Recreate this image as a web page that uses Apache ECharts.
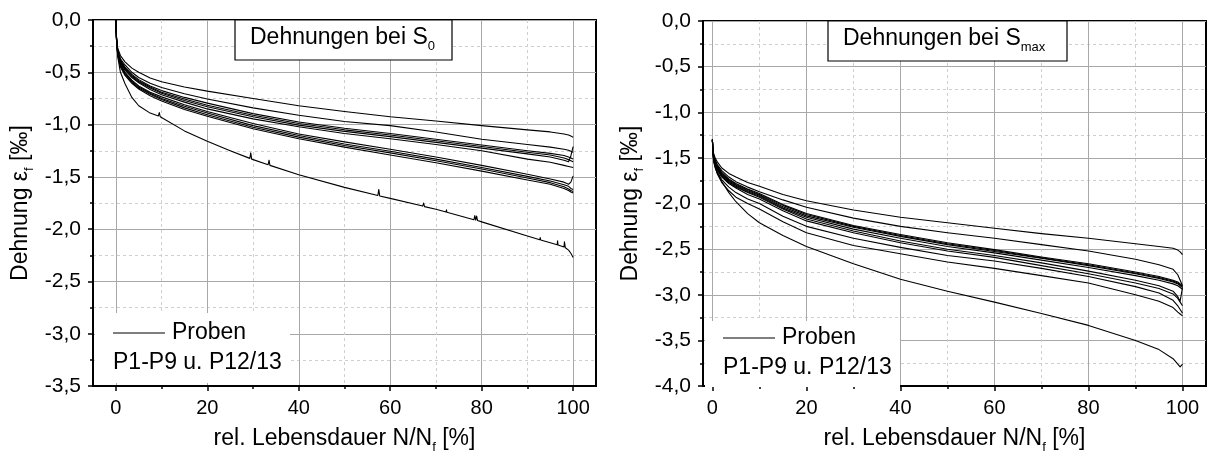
<!DOCTYPE html>
<html><head><meta charset="utf-8">
<script src="https://cdn.jsdelivr.net/npm/echarts@6/dist/echarts.min.js"></script>
<style>html,body{margin:0;padding:0;background:#fff}#c{width:1210px;height:459px}</style>
</head><body><div id="c"></div>
<script>
// ---------- tick labels ----------
const xMajorTicks = [0, 20, 40, 60, 80, 100];
const xMinorTicks = [10, 30, 50, 70, 90];

// ---------- left plot: Dehnungen bei S0 ----------
const xLeft = [0, 0.15, 0.4, 1, 2, 3.5, 5, 7.5, 10, 15, 20, 30, 40, 50, 60, 70, 80, 90, 95, 98, 99, 99.5, 100];
const s0_A = [0, -0.17, -0.27, -0.34, -0.40, -0.46, -0.50, -0.555, -0.59, -0.64, -0.68, -0.75, -0.82, -0.875, -0.925, -0.965, -1.01, -1.05, -1.07, -1.09, -1.10, -1.11, -1.12];
const s0_B = [0, -0.18, -0.29, -0.37, -0.43, -0.50, -0.55, -0.605, -0.645, -0.705, -0.755, -0.84, -0.91, -0.97, -1.01, -1.07, -1.14, -1.19, -1.215, -1.235, -1.245, -1.255, -1.265];
const s0_C = [0, -0.18, -0.29, -0.38, -0.45, -0.52, -0.57, -0.63, -0.675, -0.74, -0.795, -0.895, -0.975, -1.035, -1.085, -1.14, -1.195, -1.25, -1.275, -1.295, -1.31, -1.32, -1.33];
const s0_D = [0, -0.18, -0.30, -0.39, -0.46, -0.53, -0.58, -0.64, -0.69, -0.755, -0.815, -0.91, -0.99, -1.05, -1.10, -1.155, -1.21, -1.265, -1.29, -1.32, -1.335, -1.345, -1.355];
const s0_E = [0, -0.18, -0.30, -0.40, -0.47, -0.54, -0.59, -0.65, -0.70, -0.77, -0.83, -0.925, -1.005, -1.065, -1.115, -1.17, -1.225, -1.28, -1.31, -1.34, -1.355, -1.30, -1.21];
const s0_F = [0, -0.19, -0.31, -0.41, -0.48, -0.55, -0.60, -0.665, -0.715, -0.785, -0.85, -0.945, -1.02, -1.085, -1.135, -1.19, -1.25, -1.33, -1.36, -1.39, -1.40, -1.405, -1.41];
const s0_G = [0, -0.19, -0.32, -0.42, -0.50, -0.575, -0.63, -0.69, -0.735, -0.81, -0.875, -0.99, -1.09, -1.165, -1.235, -1.31, -1.39, -1.475, -1.52, -1.55, -1.57, -1.55, -1.49];
const s0_H = [0, -0.19, -0.32, -0.43, -0.51, -0.585, -0.64, -0.70, -0.75, -0.825, -0.89, -1.01, -1.105, -1.185, -1.255, -1.33, -1.41, -1.495, -1.54, -1.575, -1.59, -1.61, -1.62];
const s0_I = [0, -0.20, -0.33, -0.44, -0.52, -0.595, -0.65, -0.71, -0.76, -0.84, -0.905, -1.025, -1.12, -1.20, -1.27, -1.345, -1.425, -1.51, -1.555, -1.595, -1.615, -1.63, -1.64];
const s0_K = [0, -0.20, -0.33, -0.45, -0.53, -0.605, -0.66, -0.725, -0.775, -0.855, -0.92, -1.04, -1.135, -1.215, -1.29, -1.365, -1.445, -1.53, -1.57, -1.61, -1.63, -1.645, -1.655];
// lowest curve with its small spikes (x, y pairs)
const s0_J = [[0,0],[0.15,-0.20],[0.4,-0.35],[1,-0.50],[2,-0.61],[3.5,-0.74],[5,-0.82],[7.5,-0.89],
  [9.3,-0.917],[9.5,-0.885],[9.7,-0.925],[10,-0.935],[15,-1.06],[20,-1.16],[25,-1.25],
  [29.3,-1.323],[29.5,-1.27],[29.7,-1.33],[30,-1.335],[33.3,-1.383],[33.5,-1.34],[33.7,-1.39],[40,-1.48],[50,-1.60],
  [57.3,-1.677],[57.5,-1.62],[57.7,-1.682],[60,-1.705],[67.1,-1.779],[67.3,-1.75],[67.5,-1.784],[70,-1.81],
  [72.2,-1.836],[72.3,-1.815],[72.4,-1.838],[78.3,-1.91],[78.5,-1.87],[78.7,-1.914],[78.9,-1.875],[79.1,-1.917],[80,-1.93],
  [90,-2.065],[92.7,-2.10],[92.8,-2.08],[92.9,-2.103],[95,-2.13],[96.5,-2.149],[96.6,-2.11],[96.7,-2.152],[98,-2.17],
  [98.1,-2.12],[98.3,-2.178],[99,-2.20],[99.5,-2.23],[100,-2.27]];

// ---------- right plot: Dehnungen bei Smax ----------
const xRight = [0, 0.1, 0.3, 0.6, 1, 2, 3.5, 5, 7.5, 10, 15, 20, 30, 40, 50, 60, 70, 80, 90, 95, 98, 99, 99.5, 100];
const smax_A = [-1.30, -1.40, -1.46, -1.50, -1.54, -1.61, -1.67, -1.71, -1.77, -1.81, -1.90, -1.97, -2.07, -2.15, -2.21, -2.27, -2.33, -2.38, -2.44, -2.47, -2.49, -2.51, -2.53, -2.56];
const smax_B = [-1.30, -1.41, -1.48, -1.52, -1.57, -1.64, -1.71, -1.76, -1.82, -1.87, -1.96, -2.04, -2.16, -2.25, -2.32, -2.38, -2.45, -2.52, -2.61, -2.67, -2.72, -2.78, -2.84, -2.90];
const smax_C = [-1.30, -1.42, -1.49, -1.53, -1.58, -1.66, -1.73, -1.78, -1.84, -1.89, -2.01, -2.11, -2.24, -2.34, -2.43, -2.505, -2.585, -2.66, -2.75, -2.80, -2.84, -2.86, -2.88, -2.90];
const smax_D = [-1.30, -1.42, -1.49, -1.54, -1.59, -1.67, -1.74, -1.79, -1.85, -1.90, -2.02, -2.12, -2.25, -2.35, -2.44, -2.515, -2.595, -2.67, -2.76, -2.81, -2.85, -2.87, -2.89, -2.91];
const smax_E = [-1.30, -1.42, -1.50, -1.55, -1.60, -1.68, -1.75, -1.80, -1.86, -1.91, -2.035, -2.135, -2.26, -2.36, -2.45, -2.525, -2.60, -2.68, -2.77, -2.82, -2.86, -2.88, -2.90, -2.92];
const smax_F = [-1.30, -1.43, -1.50, -1.55, -1.61, -1.69, -1.76, -1.81, -1.87, -1.92, -2.05, -2.15, -2.28, -2.38, -2.47, -2.54, -2.62, -2.70, -2.79, -2.84, -2.88, -2.90, -2.92, -2.94];
const smax_G = [-1.30, -1.43, -1.51, -1.56, -1.62, -1.70, -1.77, -1.82, -1.88, -1.93, -2.06, -2.17, -2.30, -2.41, -2.50, -2.57, -2.65, -2.74, -2.84, -2.90, -2.96, -3.02, -3.07, -2.92];
const smax_H = [-1.30, -1.43, -1.51, -1.57, -1.63, -1.71, -1.78, -1.83, -1.90, -1.95, -2.08, -2.19, -2.32, -2.43, -2.52, -2.59, -2.68, -2.77, -2.87, -2.93, -2.99, -3.04, -3.08, -3.12];
const smax_K = [-1.30, -1.44, -1.53, -1.59, -1.65, -1.74, -1.82, -1.88, -1.95, -2.00, -2.14, -2.25, -2.38, -2.48, -2.57, -2.63, -2.71, -2.80, -2.91, -2.98, -3.06, -3.12, -3.16, -3.20];
const smax_L = [-1.30, -1.45, -1.54, -1.60, -1.67, -1.77, -1.86, -1.93, -2.00, -2.06, -2.20, -2.32, -2.46, -2.55, -2.64, -2.71, -2.79, -2.87, -3.00, -3.07, -3.14, -3.19, -3.21, -3.23];
const smax_J = [-1.30, -1.46, -1.55, -1.61, -1.66, -1.76, -1.88, -1.98, -2.11, -2.21, -2.35, -2.47, -2.66, -2.83, -2.96, -3.08, -3.205, -3.335, -3.50, -3.60, -3.70, -3.76, -3.79, -3.76];

// ---------- texts ----------
const titleLeft = 'Dehnungen bei S{sub|0}';
const titleRight = 'Dehnungen bei S{sub|max}';
const yName = 'Dehnung ε{sub|f} [‰]';
const xName = 'rel. Lebensdauer N/N{sub|f} [%]';
const legendLine1 = 'Proben';
const legendLine2 = 'P1-P9 u. P12/13';

const FONT = '"Liberation Sans", Arial, Helvetica, sans-serif';
const chart = echarts.init(document.getElementById('c'), null, {renderer: 'canvas'});

function pairs(xs, ys) { return xs.map((x, i) => [x, ys[i]]); }
function curve(data, gi) {
  return {type: 'line', xAxisIndex: gi * 2, yAxisIndex: gi, data: data, showSymbol: false, symbol: 'none',
    smooth: false, z: 3, silent: true,
    lineStyle: {color: '#000', width: 1.1, join: 'round'}};
}
const subRich = {sub: {fontSize: 13, lineHeight: 13, verticalAlign: 'bottom', fontFamily: FONT, color: '#000'}};
function xAxes(gi, minV) {
  return [
    {gridIndex: gi, type: 'value', min: minV, max: 105,
      axisLine: {show: true, onZero: false, lineStyle: {color: '#000', width: 2}},
      axisTick: {show: true, customValues: xMajorTicks, length: 5, lineStyle: {color: '#000', width: 1.5}},
      axisLabel: {show: true, customValues: xMajorTicks, fontSize: 20, fontFamily: FONT, color: '#000', margin: 12},
      splitLine: {show: true, lineStyle: {color: '#a8a8a8', width: 1}},
      name: xName, nameLocation: 'middle', nameGap: 36,
      nameTextStyle: {fontSize: 23, fontFamily: FONT, color: '#000', lineHeight: 31, rich: subRich}},
    {gridIndex: gi, type: 'value', min: minV, max: 105, position: 'bottom',
      axisLine: {show: false, onZero: false},
      axisTick: {show: true, customValues: xMinorTicks, length: 3, lineStyle: {color: '#000', width: 1.5}},
      axisLabel: {show: false},
      splitLine: {show: true, lineStyle: {color: '#cfcfcf', width: 1, type: [3, 3]}}}
  ];
}
function yAxis(gi, minV) {
  return {gridIndex: gi, type: 'value', min: minV, max: 0, interval: 0.5,
    axisLine: {show: true, onZero: false, lineStyle: {color: '#000', width: 2}},
    axisTick: {show: true, length: 5, lineStyle: {color: '#000', width: 1.5}},
    minorTick: {show: true, splitNumber: 2, length: 3, lineStyle: {color: '#000', width: 1.5}},
    splitLine: {show: true, lineStyle: {color: '#a8a8a8', width: 1}},
    minorSplitLine: {show: true, lineStyle: {color: '#cfcfcf', width: 1, type: [3, 3]}},
    axisLabel: {fontSize: 21, fontFamily: FONT, color: '#000', margin: 12,
      formatter: v => (Math.abs(v) < 1e-9 ? 0 : v).toFixed(1).replace('.', ',')},
    name: yName, nameLocation: 'middle', nameGap: 57,
    nameTextStyle: {fontSize: 23, fontFamily: FONT, color: '#000', lineHeight: 31, rich: subRich}};
}

const leftSets = [s0_A, s0_B, s0_C, s0_D, s0_E, s0_F, s0_G, s0_H, s0_I, s0_K];
const rightSets = [smax_A, smax_B, smax_C, smax_D, smax_E, smax_F, smax_G, smax_H, smax_K, smax_L, smax_J];

const series = [].concat(
  leftSets.map(a => curve(pairs(xLeft, a), 0)),
  [curve(s0_J, 0)],
  rightSets.map(a => curve(pairs(xRight, a), 1))
);

function titleBox(x, y, w, h, text) {
  return [
    {type: 'rect', shape: {x: x, y: y, width: w, height: h}, z: 60,
      style: {fill: '#fff', stroke: '#000', lineWidth: 1.2}},
    {type: 'text', x: x + 15, y: y + 2, z: 61,
      style: {text: text, fontSize: 23, fontFamily: FONT, fill: '#000', lineHeight: 31, verticalAlign: 'top',
        rich: {sub: {fontSize: 13, lineHeight: 13, verticalAlign: 'bottom', fontFamily: FONT, fill: '#000'}}}}
  ];
}
function legendBox(bx, by, bw, bh, lx, ly) {
  return [
    {type: 'rect', shape: {x: bx, y: by, width: bw, height: bh}, z: 50, style: {fill: '#fff'}},
    {type: 'line', shape: {x1: lx, y1: ly, x2: lx + 52, y2: ly}, z: 51, style: {stroke: '#000', lineWidth: 1.2}},
    {type: 'text', x: lx + 59, y: ly, z: 51,
      style: {text: legendLine1, fontSize: 23, fontFamily: FONT, fill: '#000', verticalAlign: 'middle'}},
    {type: 'text', x: lx, y: ly + 30, z: 51,
      style: {text: legendLine2, fontSize: 23, fontFamily: FONT, fill: '#000', verticalAlign: 'middle'}}
  ];
}

chart.setOption({
  animation: false,
  backgroundColor: '#fff',
  grid: [
    {left: 93, top: 20, width: 503, height: 371, show: true, borderColor: '#000', borderWidth: 2, backgroundColor: 'rgba(0,0,0,0)'},
    {left: 703, top: 21, width: 503, height: 370, show: true, borderColor: '#000', borderWidth: 2, backgroundColor: 'rgba(0,0,0,0)'}
  ],
  xAxis: xAxes(0, -5).concat(xAxes(1, -2)),
  yAxis: [yAxis(0, -3.5), yAxis(1, -4)],
  series: series,
  graphic: [].concat(
    titleBox(235, 20, 217, 40, titleLeft),
    titleBox(828, 21, 239, 40, titleRight),
    legendBox(95, 313, 195, 70, 113, 333),
    legendBox(705, 321, 195, 66, 723, 338)
  )
});
</script>
</body></html>
